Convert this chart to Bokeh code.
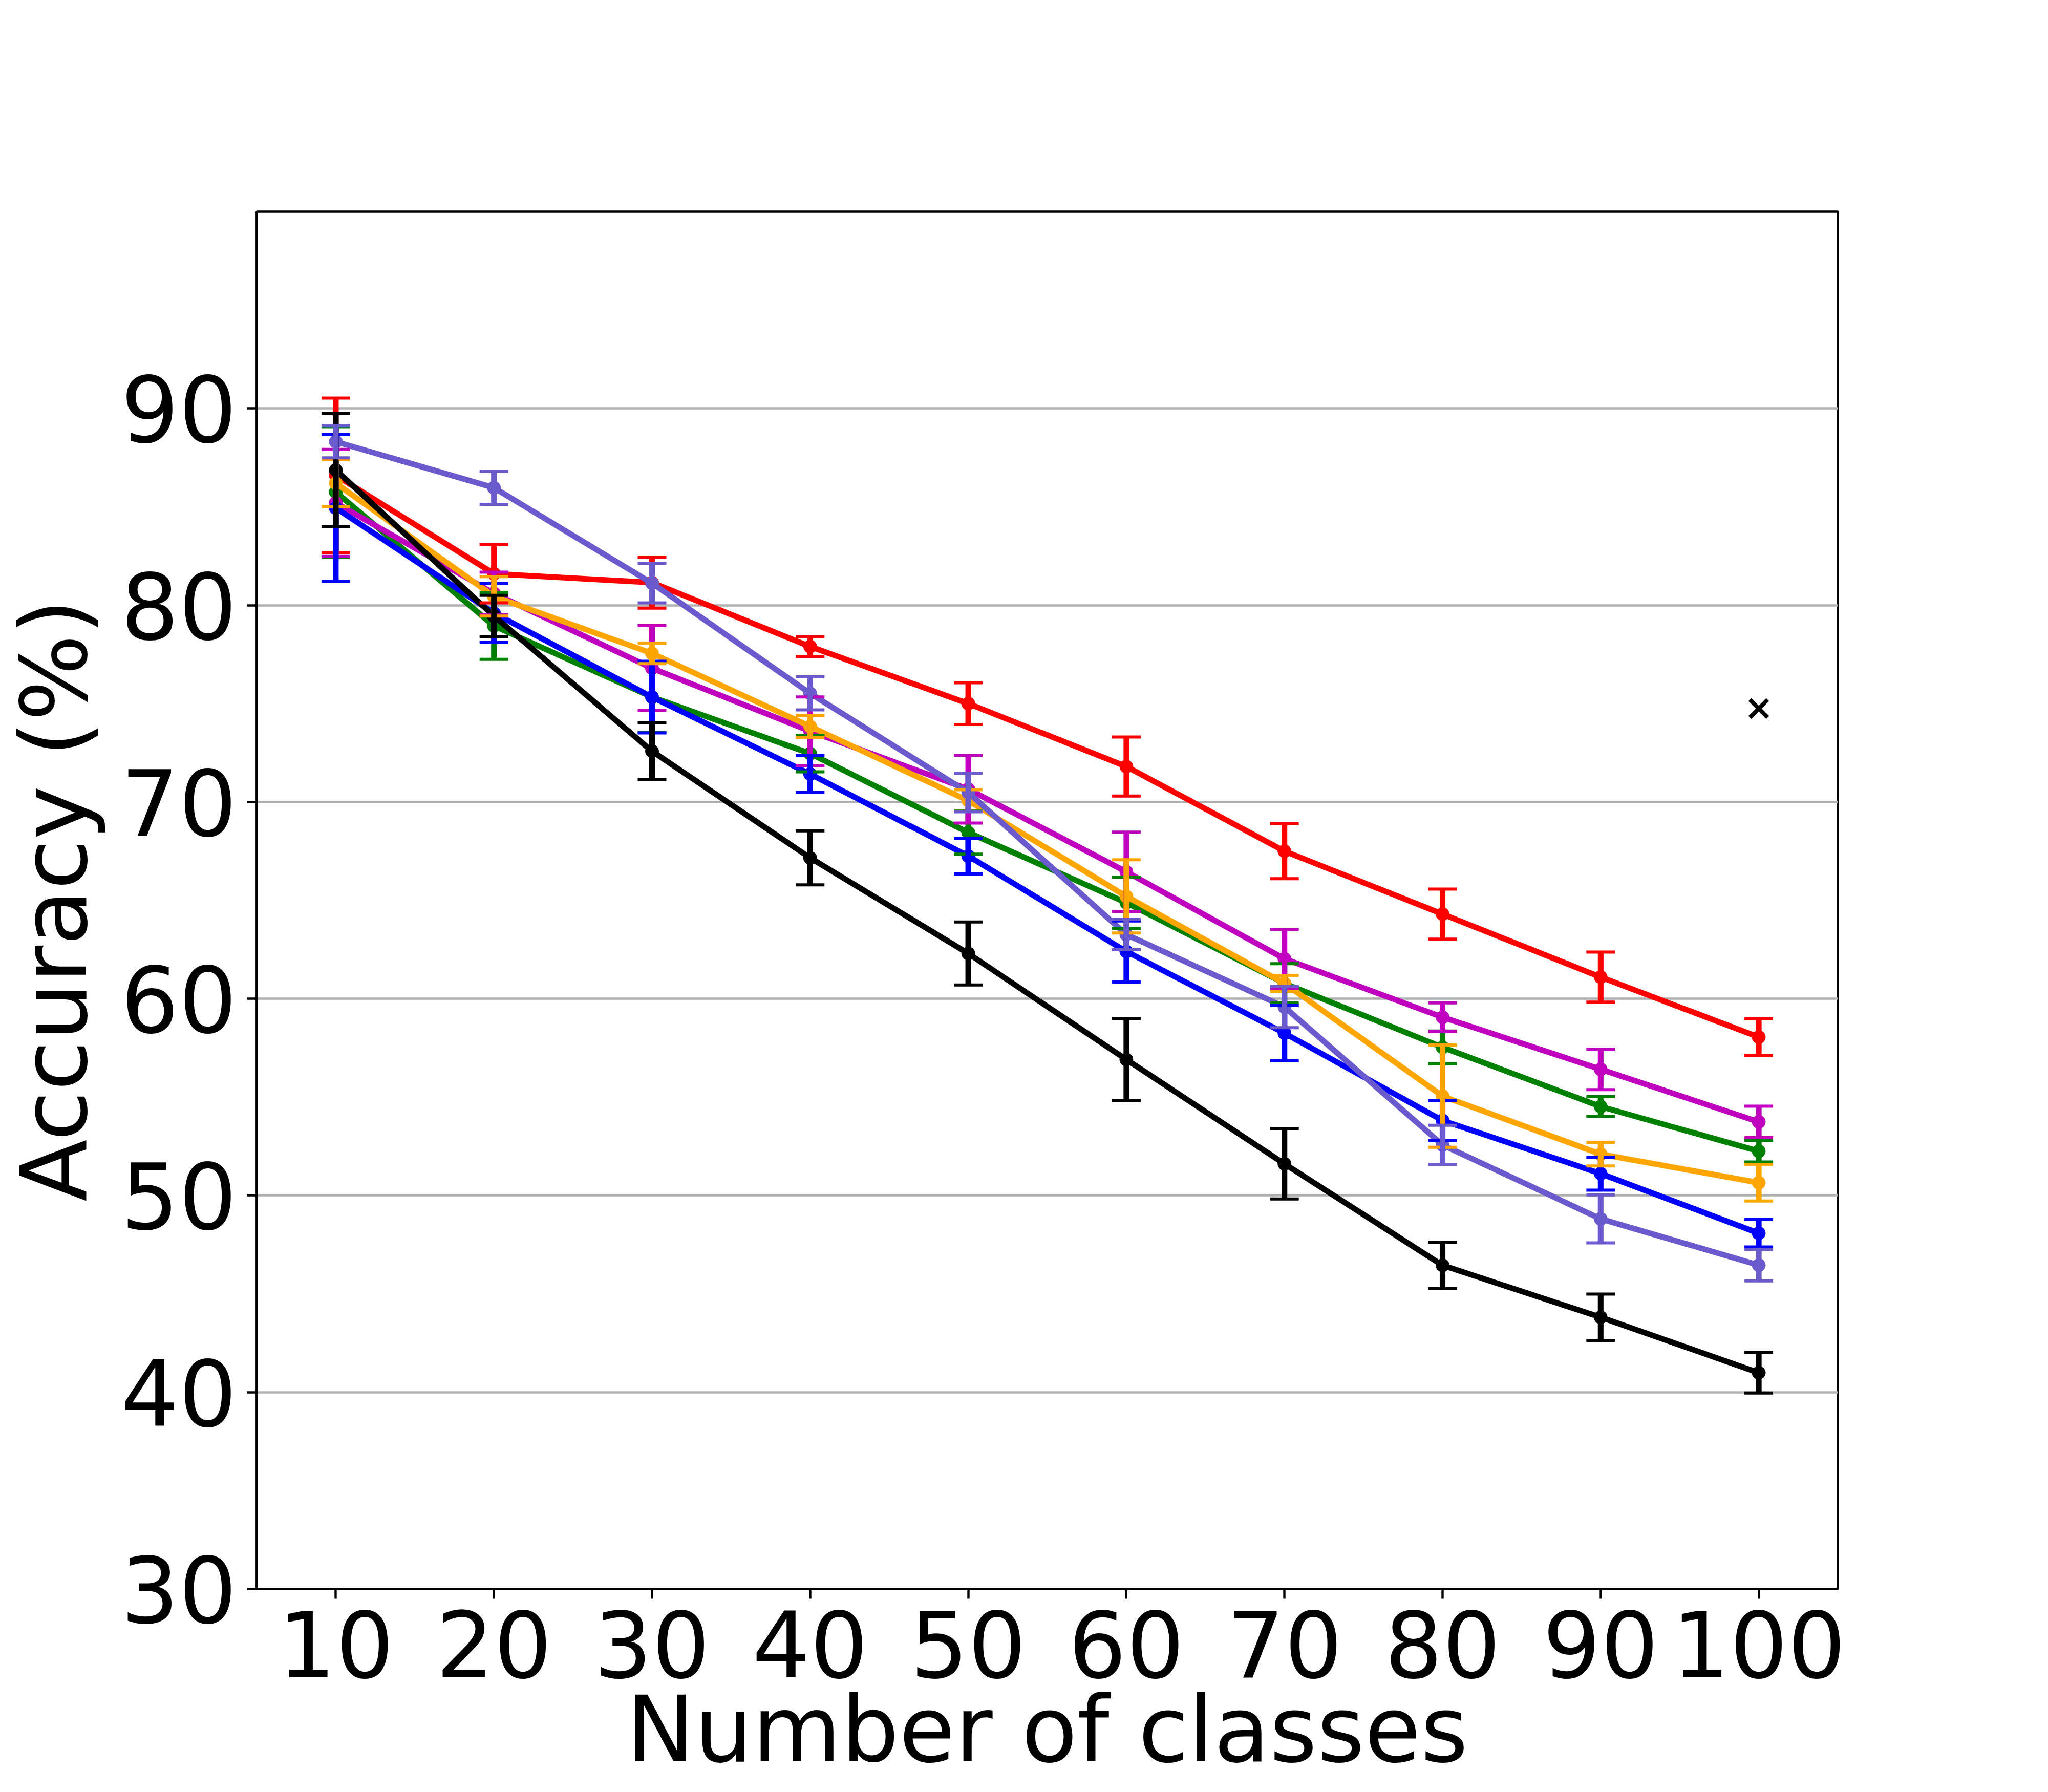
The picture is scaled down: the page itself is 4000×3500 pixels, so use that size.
from bokeh.plotting import figure
from bokeh.models import ColumnDataSource, Whisker, TeeHead, FixedTicker, Range1d
from bokeh.embed import file_html
from bokeh.resources import INLINE

# ---- data ----
classes = [10, 20, 30, 40, 50, 60, 70, 80, 90, 100]
y_ticks = [30, 40, 50, 60, 70, 80, 90]

red_acc = [86.6, 81.6, 81.15, 77.9, 75.0, 71.8, 67.5, 64.3, 61.1, 58.05]
red_err = [3.93, 1.48, 1.3, 0.5, 1.06, 1.5, 1.4, 1.27, 1.27, 0.93]

green_acc = [85.75, 78.95, 75.33, 72.46, 68.45, 64.88, 60.78, 57.53, 54.52, 52.25]
green_err = [3.32, 1.7, 1.8, 0.93, 1.1, 1.3, 1.0, 0.83, 0.5, 0.55]

magenta_acc = [85.2, 80.6, 76.8, 73.6, 70.65, 66.45, 62.03, 59.06, 56.41, 53.74]
magenta_err = [2.72, 1.08, 2.16, 1.74, 1.72, 2.02, 1.5, 0.73, 1.03, 0.8]

blue_acc = [84.94, 79.6, 75.33, 71.42, 67.25, 62.4, 58.25, 53.81, 51.11, 48.08]
blue_err = [3.73, 1.5, 1.82, 0.93, 0.91, 1.55, 1.4, 1.03, 0.84, 0.7]

orange_acc = [86.2, 80.45, 77.55, 73.84, 70.07, 65.2, 60.78, 55.05, 52.1, 50.65]
orange_err = [1.19, 1.0, 0.52, 0.56, 0.55, 1.86, 0.4, 2.6, 0.6, 0.93]

black_acc = [86.87, 79.45, 72.58, 67.16, 62.3, 56.91, 51.61, 46.45, 43.81, 40.99]
black_err = [2.87, 1.05, 1.44, 1.37, 1.6, 2.08, 1.79, 1.18, 1.18, 1.03]

slate_acc = [88.31, 85.97, 81.12, 75.52, 70.48, 63.26, 59.58, 52.57, 48.81, 46.46]
slate_err = [0.82, 0.84, 1.0, 0.84, 0.98, 0.77, 1.05, 1.0, 1.22, 0.8]

extra_x = [100]
extra_y = [74.75]

series = [
    (red_acc, red_err, "#ff0000"),
    (green_acc, green_err, "#008000"),
    (magenta_acc, magenta_err, "#bf00bf"),
    (blue_acc, blue_err, "#0000ff"),
    (orange_acc, orange_err, "#ffa500"),
    (black_acc, black_err, "#000000"),
    (slate_acc, slate_err, "#6a5acd"),
]

FONT = "DejaVu Sans"
LW = 11.1
CAP_LW = 6
CAP_W = 56

p = figure(width=3984, height=3484,
           x_range=Range1d(5, 105), y_range=Range1d(30, 100),
           output_backend="svg", toolbar_location=None,
           min_border_left=492, min_border_right=395,
           min_border_top=413, min_border_bottom=380)

p.background_fill_color = "white"
p.border_fill_color = "white"
p.outline_line_color = "black"
p.outline_line_width = 4.4
p.outline_line_alpha = 1.0

p.xaxis.ticker = FixedTicker(ticks=classes)
p.yaxis.ticker = FixedTicker(ticks=y_ticks)
p.xgrid.visible = False
p.ygrid.grid_line_color = "#b0b0b0"
p.ygrid.grid_line_width = 4.4

for ax in (p.xaxis[0], p.yaxis[0]):
    ax.axis_line_color = "black"
    ax.axis_line_width = 4.4
    ax.major_tick_line_color = "black"
    ax.major_tick_line_width = 4.4
    ax.major_tick_out = 19
    ax.major_tick_in = 0
    ax.minor_tick_line_color = None
    ax.major_label_text_font = FONT
    ax.major_label_text_font_size = "178px"
    ax.major_label_text_color = "black"
    ax.axis_label_text_font = FONT
    ax.axis_label_text_font_size = "178px"
    ax.axis_label_text_font_style = "normal"
    ax.axis_label_text_color = "black"

p.xaxis.axis_label = "Number of classes"
p.yaxis.axis_label = "Accuracy (%)"
p.xaxis.major_label_standoff = 22
p.xaxis.axis_label_standoff = -4
p.yaxis.major_label_standoff = 20
p.yaxis.axis_label_standoff = 23

for acc, err, color in series:
    src = ColumnDataSource(dict(
        x=classes, y=acc,
        upper=[a + e for a, e in zip(acc, err)],
        lower=[a - e for a, e in zip(acc, err)],
    ))
    w = Whisker(source=src, base="x", upper="upper", lower="lower",
                dimension="height", line_color=color, line_width=LW,
                upper_head=TeeHead(size=CAP_W, line_color=color, line_width=CAP_LW),
                lower_head=TeeHead(size=CAP_W, line_color=color, line_width=CAP_LW),
                level="glyph")
    p.add_layout(w)
    p.line("x", "y", source=src, line_color=color, line_width=LW)
    p.scatter("x", "y", source=src, size=26, fill_color=color, line_color=color)

p.scatter(extra_x, extra_y, marker="x", size=49, line_width=8, line_color="black")

open("out.html", "w").write(file_html(p, INLINE))
